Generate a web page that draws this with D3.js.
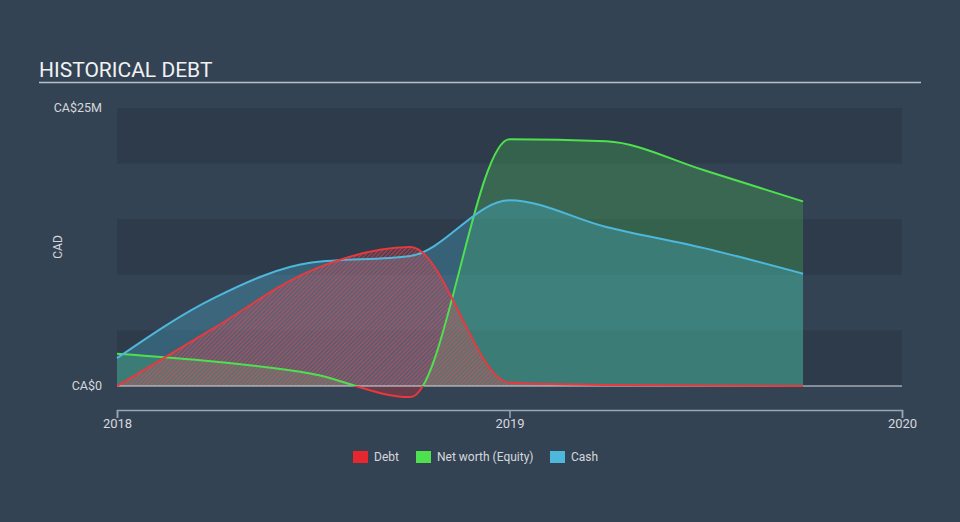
<!DOCTYPE html>
<html>
<head>
<meta charset="utf-8">
<script src="https://cdn.jsdelivr.net/npm/d3@7"></script>
<style>
  body { margin: 0; background: #344354; }
  svg { display: block; font-family: Roboto, "Open Sans", sans-serif; }
</style>
</head>
<body>
<div id="chart"></div>
<script>
// quarterly points, values in CA$ millions
var dates = ["2018-01-01", "2018-04-01", "2018-07-01", "2018-10-01",
             "2019-01-01", "2019-04-01", "2019-07-01", "2019-10-01"];
var debt     = [0,   5.2, 10.4, 12.5, 0.3, 0.1,  0.05, 0];
var netWorth = [2.9, 2.2, 1.1,  -1.0, 22.2, 22.0, 19.4, 16.6];
var cash     = [2.5, 7.9, 11.1, 11.7, 16.7, 14.3, 12.4, 10.1];
var yTicks = [0, 25];
var xTicks = ["2018-01-01", "2019-01-01", "2020-01-01"];
var seriesNames = ["Debt", "Net worth (Equity)", "Cash"];

var W = 960, H = 522;
var margin = {top: 108, right: 58, bottom: 136, left: 117};

var parse = d3.timeParse("%Y-%m-%d");
var rows = dates.map(function(d, i) {
  return {date: parse(d), debt: debt[i], nw: netWorth[i], cash: cash[i]};
});

var svg = d3.select("#chart").append("svg")
    .attr("width", W)
    .attr("height", H);

var x = d3.scaleTime()
    .domain([parse("2018-01-01"), parse("2020-01-01")])
    .range([margin.left, W - margin.right]);
var y = d3.scaleLinear()
    .domain([0, 25])
    .range([H - margin.bottom, margin.top]);

var defs = svg.append("defs");

// hatch for the debt area
var pat = defs.append("pattern")
    .attr("id", "hatch")
    .attr("patternUnits", "userSpaceOnUse")
    .attr("width", 3).attr("height", 3)
    .attr("patternTransform", "rotate(45)");
pat.append("rect").attr("width", 3).attr("height", 3).attr("fill", "rgba(220,70,80,0.12)");
pat.append("rect").attr("width", 1.4).attr("height", 3).attr("fill", "rgba(230,75,85,0.6)");

defs.append("clipPath").attr("id", "above")
  .append("rect")
    .attr("x", 0).attr("y", 0)
    .attr("width", W).attr("height", y(0));
defs.append("clipPath").attr("id", "below")
  .append("rect")
    .attr("x", 0).attr("y", y(0))
    .attr("width", W).attr("height", H - y(0));

// title
svg.append("text")
    .attr("x", 39).attr("y", 77)
    .attr("fill", "#f0f2f4")
    .style("font-size", "21px")
    .text("HISTORICAL DEBT");
svg.append("line")
    .attr("x1", 39).attr("x2", 921)
    .attr("y1", 82.5).attr("y2", 82.5)
    .attr("stroke", "#b8c0c8").attr("stroke-width", 1.5);

// background bands
var bands = [[0, 5], [10, 15], [20, 25]];
svg.selectAll("rect.band")
  .data(bands)
  .enter().append("rect")
    .attr("class", "band")
    .attr("x", x.range()[0])
    .attr("width", x.range()[1] - x.range()[0])
    .attr("y", function(d) { return y(d[1]); })
    .attr("height", function(d) { return y(d[0]) - y(d[1]); })
    .attr("fill", "#2e3b4b");

// y labels
svg.selectAll("text.ytick")
  .data(yTicks)
  .enter().append("text")
    .attr("class", "ytick")
    .attr("x", 102)
    .attr("y", function(d) { return y(d); })
    .attr("dy", "0.35em")
    .attr("text-anchor", "end")
    .attr("fill", "#d4d8dc")
    .style("font-size", "12.5px")
    .text(function(d) { return d === 0 ? "CA$0" : "CA$" + d + "M"; });

svg.append("text")
    .attr("transform", "translate(62," + ((y(0) + y(25)) / 2) + ") rotate(-90)")
    .attr("text-anchor", "middle")
    .attr("fill", "#d4d8dc")
    .style("font-size", "12px")
    .text("CAD");

var curve = d3.curveMonotoneX;

function area(key) {
  return d3.area().curve(curve)
    .x(function(d) { return x(d.date); })
    .y0(y(0))
    .y1(function(d) { return y(d[key]); });
}
function line(key) {
  return d3.line().curve(curve)
    .x(function(d) { return x(d.date); })
    .y(function(d) { return y(d[key]); });
}

// net worth area, green above zero, red below
svg.append("path").datum(rows)
    .attr("d", area("nw"))
    .attr("clip-path", "url(#above)")
    .attr("fill", "rgba(70,190,80,0.3)");
svg.append("path").datum(rows)
    .attr("d", area("nw"))
    .attr("clip-path", "url(#below)")
    .attr("fill", "rgba(200,50,60,0.35)");

// cash area
svg.append("path").datum(rows)
    .attr("d", area("cash"))
    .attr("fill", "rgba(75,185,220,0.3)");

// debt area
svg.append("path").datum(rows)
    .attr("d", area("debt"))
    .attr("fill", "url(#hatch)");

// zero line
svg.append("line")
    .attr("x1", x.range()[0]).attr("x2", x.range()[1])
    .attr("y1", y(0)).attr("y2", y(0))
    .attr("stroke", "#d8dde2").attr("stroke-width", 1);

// lines
svg.append("path").datum(rows)
    .attr("d", line("nw"))
    .attr("clip-path", "url(#above)")
    .attr("fill", "none").attr("stroke", "#4fe04f").attr("stroke-width", 2);
svg.append("path").datum(rows)
    .attr("d", line("nw"))
    .attr("clip-path", "url(#below)")
    .attr("fill", "none").attr("stroke", "#e8393f").attr("stroke-width", 2);
svg.append("path").datum(rows)
    .attr("d", line("cash"))
    .attr("fill", "none").attr("stroke", "#4db8dc").attr("stroke-width", 2);
svg.append("path").datum(rows)
    .attr("d", line("debt"))
    .attr("fill", "none").attr("stroke", "#e8393f").attr("stroke-width", 2);

// x axis
var xAxis = d3.axisBottom(x)
    .tickValues(xTicks.map(parse))
    .tickFormat(d3.timeFormat("%Y"))
    .tickSize(8)
    .tickPadding(1);
var gx = svg.append("g")
    .attr("transform", "translate(0,410)")
    .call(xAxis);
gx.select(".domain").attr("stroke", "#9aa5b1").attr("stroke-width", 1.5);
gx.selectAll(".tick line").attr("stroke", "#9aa5b1").attr("stroke-width", 1.5);
gx.selectAll(".tick text")
    .attr("fill", "#d4d8dc")
    .style("font-size", "13px")
    .style("font-family", "Roboto, sans-serif");

// legend
var legendColors = ["#e8262e", "#4fe04f", "#4db8dc"];
var legendX = [353, 416, 550];
var lg = svg.selectAll("g.leg")
  .data(seriesNames)
  .enter().append("g")
    .attr("class", "leg")
    .attr("transform", function(d, i) { return "translate(" + legendX[i] + ",451)"; });
lg.append("rect")
    .attr("width", 15).attr("height", 12)
    .attr("fill", function(d, i) { return legendColors[i]; });
lg.append("text")
    .attr("x", 21).attr("y", 6)
    .attr("dy", "0.35em")
    .attr("fill", "#d4d8dc")
    .style("font-size", "12px")
    .text(function(d) { return d; });
</script>
</body>
</html>
